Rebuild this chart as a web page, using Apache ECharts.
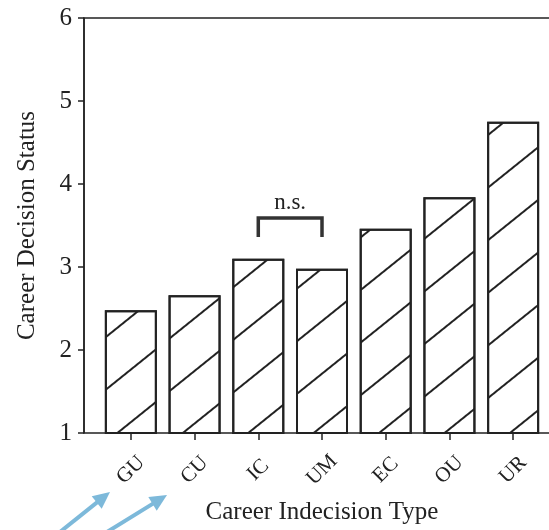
<!DOCTYPE html>
<html>
<head>
<meta charset="utf-8">
<script src="https://cdn.jsdelivr.net/npm/echarts@6/dist/echarts.min.js"></script>
<style>
  html, body { margin: 0; padding: 0; background: #fff; }
  #chart { width: 549px; height: 530px; }
</style>
</head>
<body>
<div id="chart"></div>
<script>
var myChart = echarts.init(document.getElementById('chart'), null, {renderer: 'canvas'});

// data
var categories = ['GU', 'CU', 'IC', 'UM', 'EC', 'OU', 'UR'];
var statusValues = [2.48, 2.66, 3.10, 2.98, 3.46, 3.84, 4.75];
// n.s. bracket: from category index, to category index, top, bottom of legs
var bracketData = [[2, 3, 3.59, 3.36]];

var serif = '"Liberation Serif", "DejaVu Serif", serif';
var ink = '#222';

// blue annotation arrows (pixel space)
function arrow(x1, y1, x2, y2) {
    var dx = x2 - x1, dy = y2 - y1;
    var len = Math.sqrt(dx * dx + dy * dy);
    var ux = dx / len, uy = dy / len;
    var hl = 17, hw = 8;
    var bx = x2 - ux * hl, by = y2 - uy * hl;
    return [
        {
            type: 'line',
            shape: {x1: x1, y1: y1, x2: bx + ux * 2, y2: by + uy * 2},
            style: {stroke: '#7db9da', lineWidth: 4}
        },
        {
            type: 'polygon',
            shape: {points: [[x2, y2], [bx - uy * hw, by + ux * hw], [bx + uy * hw, by - ux * hw]]},
            style: {fill: '#7db9da'}
        }
    ];
}

option = {
    animation: false,
    grid: [
        {
            left: 84, top: 18, width: 500, bottom: 97,
            outerBoundsMode: 'none', containLabel: false,
            show: true, borderColor: ink, borderWidth: 1.5
        },
        {left: 99, top: 18, width: 446, bottom: 97, outerBoundsMode: 'none', containLabel: false}
    ],
    xAxis: [
        {gridIndex: 0, type: 'value', min: 0, max: 1, show: false},
        {
            gridIndex: 1,
            type: 'category',
            data: categories,
            name: 'Career Indecision Type',
            nameLocation: 'middle',
            nameGap: 67,
            nameTextStyle: {fontFamily: serif, fontSize: 25, color: ink},
            axisLine: {show: false},
            axisTick: {show: true, alignWithLabel: true, length: 7, lineStyle: {color: ink, width: 1.5}},
            axisLabel: {
                rotate: 45,
                align: 'center',
                verticalAlign: 'middle',
                margin: 37,
                fontFamily: serif,
                fontSize: 21,
                color: ink
            }
        }
    ],
    yAxis: [
        {
            gridIndex: 0,
            type: 'value',
            min: 1,
            max: 6,
            interval: 1,
            name: 'Career Decision Status',
            nameLocation: 'middle',
            nameGap: 44,
            nameTextStyle: {fontFamily: serif, fontSize: 25, color: ink},
            splitLine: {show: false},
            axisLine: {show: true, lineStyle: {color: ink, width: 1.5}},
            axisTick: {show: true, length: 6, lineStyle: {color: ink, width: 1.5}},
            axisLabel: {margin: 12, fontFamily: serif, fontSize: 25, color: ink}
        },
        {gridIndex: 1, type: 'value', min: 1, max: 6, show: false}
    ],
    series: [
        {
            name: 'Career Decision Status',
            type: 'bar',
            xAxisIndex: 1,
            yAxisIndex: 1,
            barWidth: 52,
            data: statusValues,
            itemStyle: {
                color: '#fff',
                borderColor: ink,
                borderWidth: 2,
                decal: {
                    symbol: 'rect',
                    symbolSize: 1,
                    color: ink,
                    dashArrayX: [1, 0],
                    dashArrayY: [1.2, 38.8],
                    rotation: -38.8 * Math.PI / 180
                }
            }
        },
        {
            type: 'custom',
            xAxisIndex: 1,
            yAxisIndex: 1,
            data: bracketData,
            renderItem: function (params, api) {
                var a = api.coord([api.value(0), api.value(3)]);
                var b = api.coord([api.value(0), api.value(2)]);
                var c = api.coord([api.value(1), api.value(2)]);
                var d = api.coord([api.value(1), api.value(3)]);
                return {
                    type: 'group',
                    children: [
                        {
                            type: 'polyline',
                            shape: {points: [a, b, c, d]},
                            style: {stroke: '#333', lineWidth: 3.5, fill: null}
                        },
                        {
                            type: 'text',
                            style: {
                                text: 'n.s.',
                                x: (b[0] + c[0]) / 2,
                                y: b[1] - 4,
                                align: 'center',
                                verticalAlign: 'bottom',
                                font: '23px ' + serif,
                                fill: ink
                            }
                        }
                    ]
                };
            }
        }
    ],
    graphic: arrow(50, 540, 110, 492).concat(arrow(94, 540, 167, 495))
};

myChart.setOption(option);
</script>
</body>
</html>
